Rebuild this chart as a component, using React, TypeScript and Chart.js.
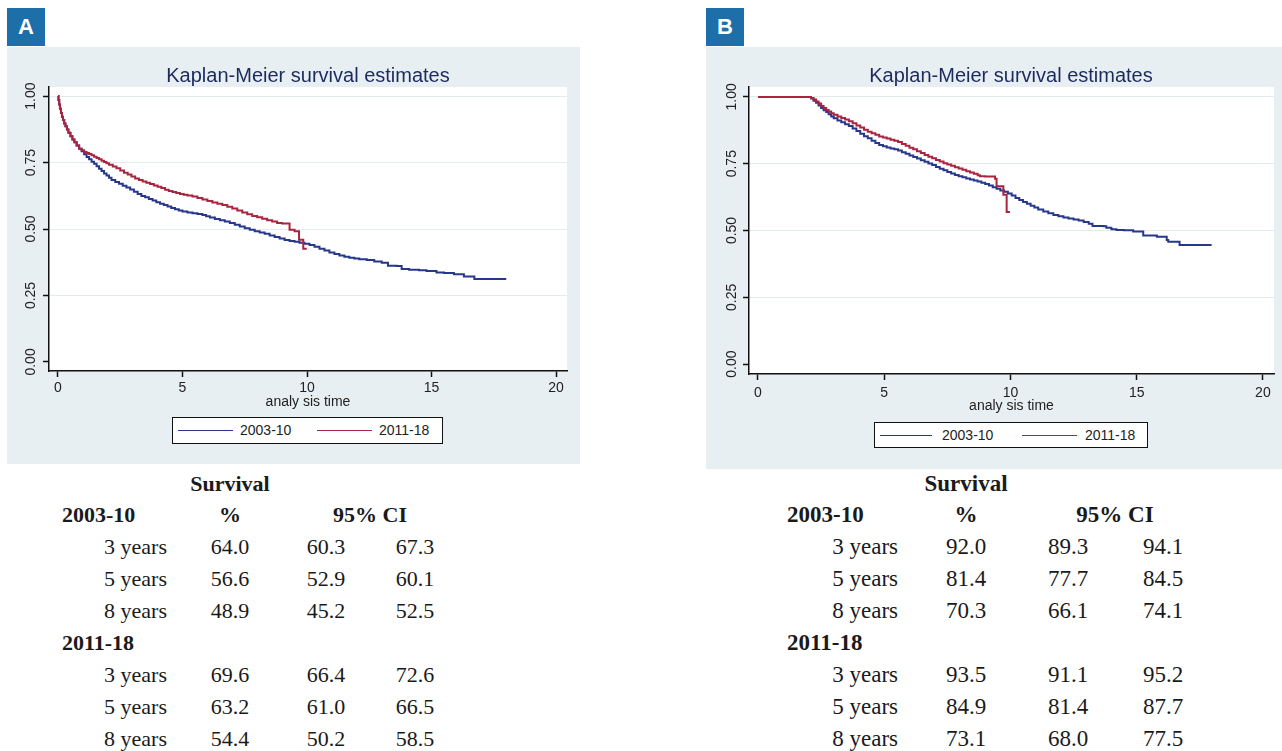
import React, { useEffect, useRef } from "react";
import { Chart, registerables } from "chart.js";

Chart.register(...registerables);

// ---------- DATA ----------
const seriesNames = ["2003-10", "2011-18"];
const chartTitle = "Kaplan-Meier survival estimates";
const xAxisTitle = "analy sis time";
const xTickValues = [0, 5, 10, 15, 20];
const yTickValues = [0, 0.25, 0.5, 0.75, 1];
const yTickLabels = ["0.00", "0.25", "0.50", "0.75", "1.00"];

// Panel A, 2003-10
const timeA1 = [0, 0.02, 0.05, 0.08, 0.12, 0.16, 0.2, 0.25, 0.3, 0.36, 0.42, 0.5, 0.58, 0.66, 0.75, 0.85, 0.95, 1.05, 1.15, 1.25, 1.35, 1.45, 1.55, 1.65, 1.75, 1.85, 1.95, 2.05, 2.15, 2.3, 2.45, 2.6, 2.75, 2.9, 3.05, 3.2, 3.35, 3.5, 3.65, 3.8, 3.95, 4.1, 4.25, 4.4, 4.55, 4.7, 4.85, 5.0, 5.2, 5.4, 5.6, 5.8, 5.95, 6.1, 6.3, 6.5, 6.7, 6.9, 7.1, 7.3, 7.5, 7.7, 7.9, 8.1, 8.3, 8.5, 8.7, 8.9, 9.1, 9.3, 9.5, 9.7, 9.9, 10.1, 10.3, 10.5, 10.7, 10.9, 11.1, 11.3, 11.5, 11.7, 11.9, 12.1, 12.4, 12.7, 13.0, 13.25, 13.6, 13.8, 14.1, 14.5, 14.8, 15.2, 15.5, 15.9, 16.3, 16.72, 18.0];
const survA1 = [1.0, 0.985, 0.968, 0.952, 0.936, 0.922, 0.91, 0.897, 0.886, 0.874, 0.862, 0.849, 0.837, 0.826, 0.814, 0.802, 0.792, 0.781, 0.771, 0.762, 0.753, 0.745, 0.736, 0.727, 0.718, 0.709, 0.701, 0.693, 0.684, 0.677, 0.67, 0.663, 0.656, 0.649, 0.64, 0.632, 0.624, 0.619, 0.613, 0.607, 0.601, 0.595, 0.59, 0.585, 0.579, 0.574, 0.57, 0.566, 0.562, 0.559, 0.556, 0.553, 0.548, 0.543, 0.538, 0.533, 0.528, 0.523, 0.516, 0.509, 0.503, 0.497, 0.492, 0.487, 0.482, 0.476, 0.47, 0.464, 0.459, 0.455, 0.452, 0.448, 0.445, 0.44, 0.433, 0.426, 0.419, 0.412, 0.406, 0.4, 0.396, 0.392, 0.389, 0.386, 0.383, 0.378, 0.373, 0.362, 0.361, 0.35, 0.347, 0.345, 0.342, 0.336, 0.335, 0.33, 0.321, 0.312, 0.312];
// Panel A, 2011-18
const timeA2 = [0, 0.02, 0.05, 0.08, 0.12, 0.16, 0.2, 0.25, 0.3, 0.36, 0.42, 0.5, 0.58, 0.66, 0.75, 0.85, 0.95, 1.05, 1.15, 1.25, 1.35, 1.45, 1.55, 1.65, 1.75, 1.85, 1.95, 2.05, 2.2, 2.35, 2.5, 2.65, 2.8, 2.95, 3.1, 3.25, 3.4, 3.55, 3.7, 3.85, 4.0, 4.15, 4.3, 4.45, 4.6, 4.75, 4.9, 5.05, 5.2, 5.4, 5.6, 5.8, 6.0, 6.2, 6.4, 6.6, 6.8, 7.0, 7.2, 7.4, 7.6, 7.8, 8.0, 8.2, 8.4, 8.6, 8.8, 9.0, 9.3, 9.5, 9.68, 9.85, 9.99];
const survA2 = [1.0, 0.985, 0.968, 0.952, 0.936, 0.922, 0.91, 0.897, 0.886, 0.874, 0.862, 0.849, 0.837, 0.826, 0.814, 0.802, 0.796, 0.79, 0.786, 0.782, 0.777, 0.772, 0.767, 0.762, 0.757, 0.752, 0.747, 0.742, 0.735, 0.728, 0.72, 0.712, 0.705, 0.697, 0.69, 0.684, 0.679, 0.674, 0.669, 0.664, 0.659, 0.654, 0.648, 0.643, 0.639, 0.635, 0.632, 0.629, 0.626, 0.622, 0.617, 0.611, 0.605, 0.6, 0.595, 0.59, 0.584, 0.577, 0.57, 0.562, 0.555, 0.549, 0.544, 0.539, 0.533, 0.528, 0.523, 0.521, 0.497, 0.492, 0.46, 0.426, 0.426];
// Panel B, 2003-10
const timeB1 = [0, 2.03, 2.1, 2.2, 2.3, 2.4, 2.5, 2.6, 2.7, 2.8, 2.9, 3.0, 3.15, 3.3, 3.45, 3.6, 3.75, 3.9, 4.05, 4.2, 4.35, 4.5, 4.65, 4.8, 4.95, 5.1, 5.25, 5.4, 5.55, 5.7, 5.85, 6.0, 6.15, 6.3, 6.45, 6.6, 6.75, 6.9, 7.05, 7.2, 7.35, 7.5, 7.65, 7.8, 7.95, 8.1, 8.25, 8.4, 8.55, 8.7, 8.85, 9.0, 9.15, 9.3, 9.45, 9.6, 9.75, 9.9, 10.05, 10.2, 10.35, 10.5, 10.65, 10.8, 10.95, 11.1, 11.3, 11.5, 11.7, 11.9, 12.1, 12.3, 12.5, 12.7, 12.9, 13.1, 13.25, 13.7, 13.8, 14.0, 14.2, 14.5, 14.86, 15.26, 15.8, 16.19, 16.25, 16.7, 17.97];
const survB1 = [1.0, 1.0, 0.994, 0.986, 0.978, 0.968, 0.958, 0.95, 0.943, 0.935, 0.927, 0.92, 0.912, 0.905, 0.898, 0.891, 0.882, 0.872, 0.862, 0.853, 0.845, 0.836, 0.827, 0.82, 0.815, 0.811, 0.807, 0.804, 0.799, 0.793, 0.787, 0.781, 0.775, 0.769, 0.763, 0.757, 0.751, 0.745, 0.738, 0.731, 0.725, 0.719, 0.713, 0.708, 0.703, 0.699, 0.695, 0.691, 0.687, 0.683, 0.679, 0.674, 0.668, 0.662, 0.656, 0.65, 0.645, 0.638, 0.631, 0.622, 0.614, 0.607, 0.6, 0.593, 0.586, 0.579, 0.571, 0.565, 0.558, 0.553, 0.549, 0.545, 0.541, 0.537, 0.532, 0.525, 0.517, 0.516, 0.51, 0.505, 0.502, 0.501, 0.496, 0.481, 0.477, 0.464, 0.458, 0.446, 0.446];
// Panel B, 2011-18
const timeB2 = [0, 2.03, 2.1, 2.2, 2.3, 2.4, 2.5, 2.6, 2.7, 2.8, 2.9, 3.0, 3.15, 3.3, 3.45, 3.6, 3.75, 3.9, 4.05, 4.2, 4.35, 4.5, 4.65, 4.8, 4.95, 5.1, 5.25, 5.4, 5.55, 5.7, 5.85, 6.0, 6.15, 6.3, 6.45, 6.6, 6.75, 6.9, 7.05, 7.2, 7.35, 7.5, 7.65, 7.8, 7.95, 8.1, 8.25, 8.4, 8.55, 8.7, 8.79, 9.0, 9.39, 9.45, 9.72, 9.85, 9.98];
const survB2 = [1.0, 1.0, 0.996, 0.99, 0.983, 0.975, 0.966, 0.958, 0.951, 0.945, 0.939, 0.933, 0.927, 0.921, 0.915, 0.909, 0.901, 0.893, 0.885, 0.877, 0.87, 0.864, 0.858, 0.852, 0.848, 0.844, 0.84, 0.836, 0.831, 0.824, 0.817, 0.81, 0.804, 0.797, 0.79, 0.783, 0.776, 0.77, 0.764, 0.758, 0.752, 0.747, 0.742, 0.737, 0.732, 0.727, 0.722, 0.717, 0.712, 0.707, 0.703, 0.702, 0.694, 0.666, 0.634, 0.569, 0.569];

// Tables
const yearRows = ["3 years", "5 years", "8 years"];
const tableA_p1_pct = ["64.0", "56.6", "48.9"];
const tableA_p1_lo = ["60.3", "52.9", "45.2"];
const tableA_p1_hi = ["67.3", "60.1", "52.5"];
const tableA_p2_pct = ["69.6", "63.2", "54.4"];
const tableA_p2_lo = ["66.4", "61.0", "50.2"];
const tableA_p2_hi = ["72.6", "66.5", "58.5"];
const tableB_p1_pct = ["92.0", "81.4", "70.3"];
const tableB_p1_lo = ["89.3", "77.7", "66.1"];
const tableB_p1_hi = ["94.1", "84.5", "74.1"];
const tableB_p2_pct = ["93.5", "84.9", "73.1"];
const tableB_p2_lo = ["91.1", "81.4", "68.0"];
const tableB_p2_hi = ["95.2", "87.7", "77.5"];

// ---------- STYLE ----------
const BLUE = "#27378a";
const RED = "#a8243f";
const PANEL_BG = "#e8eff2";
const LABEL_BLUE = "#1d6fa9";
const SANS = '"Liberation Sans", Arial, Helvetica, sans-serif';
const SERIF = '"Liberation Serif", "Times New Roman", serif';

type Geo = {
  left: number; top: number; width: number; height: number;
  yAxisW: number; padTop: number; padRight: number; padBottom: number; xAxisH: number;
  xmin: number; xmax: number; ymin: number; ymax: number;
  xTickPad: number; yLabelOff: number;
};

function KMChart({ geo, t1, s1, t2, s2 }: { geo: Geo; t1: number[]; s1: number[]; t2: number[]; s2: number[] }) {
  const ref = useRef<HTMLCanvasElement | null>(null);
  useEffect(() => {
    if (!ref.current) return;
    const bgPlugin = {
      id: "plotBg",
      beforeDraw(chart: any) {
        const { ctx, chartArea } = chart;
        ctx.save();
        ctx.fillStyle = "#ffffff";
        ctx.fillRect(chartArea.left, chartArea.top, chartArea.right - chartArea.left, chartArea.bottom - chartArea.top);
        ctx.restore();
      },
    };
    const yLabelPlugin = {
      id: "yLabels",
      afterDraw(chart: any) {
        const { ctx, chartArea, scales } = chart;
        const ys = scales.y;
        ctx.save();
        ctx.font = `14px ${SANS}`;
        ctx.fillStyle = "#222";
        ctx.textAlign = "center";
        ctx.textBaseline = "middle";
        yTickValues.forEach((v, i) => {
          const y = ys.getPixelForValue(v);
          ctx.save();
          ctx.translate(chartArea.left - geo.yLabelOff, y);
          ctx.rotate(-Math.PI / 2);
          ctx.fillText(yTickLabels[i], 0, 0);
          ctx.restore();
        });
        ctx.restore();
      },
    };
    const chart = new Chart(ref.current, {
      type: "line",
      data: {
        datasets: [
          {
            label: seriesNames[1],
            data: t2.map((t, i) => ({ x: t, y: s2[i] })),
            borderColor: RED,
            borderWidth: 2,
            pointRadius: 0,
            stepped: true,
            fill: false,
            order: 0,
          },
          {
            label: seriesNames[0],
            data: t1.map((t, i) => ({ x: t, y: s1[i] })),
            borderColor: BLUE,
            borderWidth: 2,
            pointRadius: 0,
            stepped: true,
            fill: false,
            order: 1,
          },
        ],
      },
      options: {
        animation: false,
        responsive: false,
        maintainAspectRatio: false,
        layout: { padding: { left: 0, top: geo.padTop, right: geo.padRight, bottom: geo.padBottom } },
        plugins: { legend: { display: false }, title: { display: false }, tooltip: { enabled: false } },
        scales: {
          x: {
            type: "linear",
            min: geo.xmin,
            max: geo.xmax,
            afterBuildTicks: (s: any) => { s.ticks = xTickValues.map((v) => ({ value: v })); },
            afterFit: (s: any) => { s.height = geo.xAxisH; },
            ticks: { padding: geo.xTickPad, color: "#222", font: { size: 14, family: SANS }, callback: (v: any) => String(v), maxRotation: 0 },
            grid: { drawOnChartArea: false, drawTicks: true, tickLength: 6, tickColor: "#111", tickWidth: 1.5 },
            border: { display: true, color: "#111", width: 1.5 },
            title: { display: true, text: xAxisTitle, color: "#222", font: { size: 14, family: SANS, lineHeight: 1 }, padding: 0 },
          },
          y: {
            type: "linear",
            min: geo.ymin,
            max: geo.ymax,
            afterBuildTicks: (s: any) => { s.ticks = yTickValues.map((v) => ({ value: v })); },
            afterFit: (s: any) => { s.width = geo.yAxisW; },
            ticks: { display: false },
            grid: {
              drawOnChartArea: true,
              drawTicks: true,
              tickLength: 6,
              color: (c: any) => (c.tick && c.tick.value === 0 ? "rgba(0,0,0,0)" : "#e4ebee"),
              tickColor: "#111",
              tickWidth: 1.5,
              lineWidth: 1,
            },
            border: { display: true, color: "#111", width: 1.5 },
          },
        },
      },
      plugins: [bgPlugin, yLabelPlugin],
    } as any);
    return () => chart.destroy();
  }, []);
  return (
    <canvas
      ref={ref}
      width={geo.width}
      height={geo.height}
      style={{ position: "absolute", left: geo.left, top: geo.top, width: geo.width, height: geo.height, display: "block" }}
    />
  );
}

function Legend({ left, top, width, height, s1, t1, s2, t2 }: any) {
  const cy = height / 2 - 1.5;
  return (
    <div style={{ position: "absolute", left, top, width, height, boxSizing: "border-box", border: "1.5px solid #111", background: "#fff" }}>
      <div style={{ position: "absolute", left: s1[0], width: s1[1], top: cy, height: 1, background: BLUE }} />
      <div style={{ position: "absolute", left: t1, top: cy - 9, lineHeight: "18px", fontSize: 14, fontFamily: SANS, color: "#222" }}>{seriesNames[0]}</div>
      <div style={{ position: "absolute", left: s2[0], width: s2[1], top: cy, height: 1, background: RED }} />
      <div style={{ position: "absolute", left: t2, top: cy - 9, lineHeight: "18px", fontSize: 14, fontFamily: SANS, color: "#222" }}>{seriesNames[1]}</div>
    </div>
  );
}

function SurvTable({ fs, labelX, yearsR, pctX, loX, hiX, ciX, p1, p2 }: any) {
  const rowsY = [547, 579, 611];
  const rows2Y = [675, 707, 739];
  const base: any = { position: "absolute", fontFamily: SERIF, fontSize: fs, lineHeight: "24px", color: "#1a1a1a", whiteSpace: "nowrap" };
  const center = (x: number, y: number, txt: string, bold = false) => (
    <div style={{ ...base, left: x - 60, width: 120, top: y - 12, textAlign: "center", fontWeight: bold ? 700 : 400 }}>{txt}</div>
  );
  const right = (x: number, y: number, txt: string) => (
    <div style={{ ...base, left: x - 150, width: 150, top: y - 12, textAlign: "right" }}>{txt}</div>
  );
  const leftT = (x: number, y: number, txt: string, bold = false) => (
    <div style={{ ...base, left: x, top: y - 12, fontWeight: bold ? 700 : 400 }}>{txt}</div>
  );
  const block = (ys: number[], d: any, k: string) =>
    ys.map((y, i) => (
      <React.Fragment key={k + i}>
        {right(yearsR, y, yearRows[i])}
        {center(pctX, y, d.pct[i])}
        {center(loX, y, d.lo[i])}
        {center(hiX, y, d.hi[i])}
      </React.Fragment>
    ));
  return (
    <>
      {center(pctX, 484, "Survival", true)}
      {leftT(labelX, 515, seriesNames[0], true)}
      {center(pctX, 515, "%", true)}
      {center(ciX, 515, "95% CI", true)}
      {block(rowsY, p1, "a")}
      {leftT(labelX, 643, seriesNames[1], true)}
      {block(rows2Y, p2, "b")}
    </>
  );
}

const geoA: Geo = {
  left: 7, top: 47, width: 573, height: 417,
  yAxisW: 42, padTop: 40, padRight: 13, padBottom: 55, xAxisH: 38,
  xmin: -0.36, xmax: 20.44, ymin: -0.034, ymax: 1.034,
  xTickPad: 3, yLabelOff: 18,
};
const geoB: Geo = {
  left: 706, top: 47, width: 576, height: 422,
  yAxisW: 43, padTop: 40, padRight: 8, padBottom: 56, xAxisH: 39,
  xmin: -0.356, xmax: 20.44, ymin: -0.037, ymax: 1.037,
  xTickPad: 5, yLabelOff: 17,
};

function PanelLabel({ left, text }: { left: number; text: string }) {
  return (
    <div style={{ position: "absolute", left, top: 8, width: 38, height: 38, background: LABEL_BLUE, color: "#fff", fontFamily: SANS, fontWeight: 700, fontSize: 22, lineHeight: "38px", textAlign: "center" }}>{text}</div>
  );
}

function Title({ cx }: { cx: number }) {
  return (
    <div style={{ position: "absolute", left: cx - 200, width: 400, top: 63, lineHeight: "24px", fontSize: 20, fontFamily: SANS, color: "#1c2a5e", textAlign: "center", whiteSpace: "nowrap" }}>{chartTitle}</div>
  );
}

export default function App() {
  return (
    <div style={{ position: "absolute", left: 0, top: 0, width: 1282, height: 751, background: "#fff", overflow: "hidden" }}>
      <PanelLabel left={7} text="A" />
      <PanelLabel left={706} text="B" />
      <div style={{ position: "absolute", left: 7, top: 47, width: 573, height: 417, background: PANEL_BG }} />
      <div style={{ position: "absolute", left: 706, top: 47, width: 576, height: 422, background: PANEL_BG }} />
      <KMChart geo={geoA} t1={timeA1} s1={survA1} t2={timeA2} s2={survA2} />
      <KMChart geo={geoB} t1={timeB1} s1={survB1} t2={timeB2} s2={survB2} />
      <Title cx={308} />
      <Title cx={1011} />
      <Legend left={172} top={417} width={271} height={27} s1={[5, 55]} t1={67} s2={[144, 55]} t2={206} />
      <Legend left={874} top={422} width={274} height={26} s1={[5, 52]} t1={67} s2={[147, 55]} t2={210} />
      <SurvTable fs={22} labelX={62} yearsR={167} pctX={230} loX={326} hiX={415} ciX={370}
        p1={{ pct: tableA_p1_pct, lo: tableA_p1_lo, hi: tableA_p1_hi }}
        p2={{ pct: tableA_p2_pct, lo: tableA_p2_lo, hi: tableA_p2_hi }} />
      <SurvTable fs={23} labelX={787} yearsR={898} pctX={966} loX={1068} hiX={1163} ciX={1115}
        p1={{ pct: tableB_p1_pct, lo: tableB_p1_lo, hi: tableB_p1_hi }}
        p2={{ pct: tableB_p2_pct, lo: tableB_p2_lo, hi: tableB_p2_hi }} />
    </div>
  );
}
